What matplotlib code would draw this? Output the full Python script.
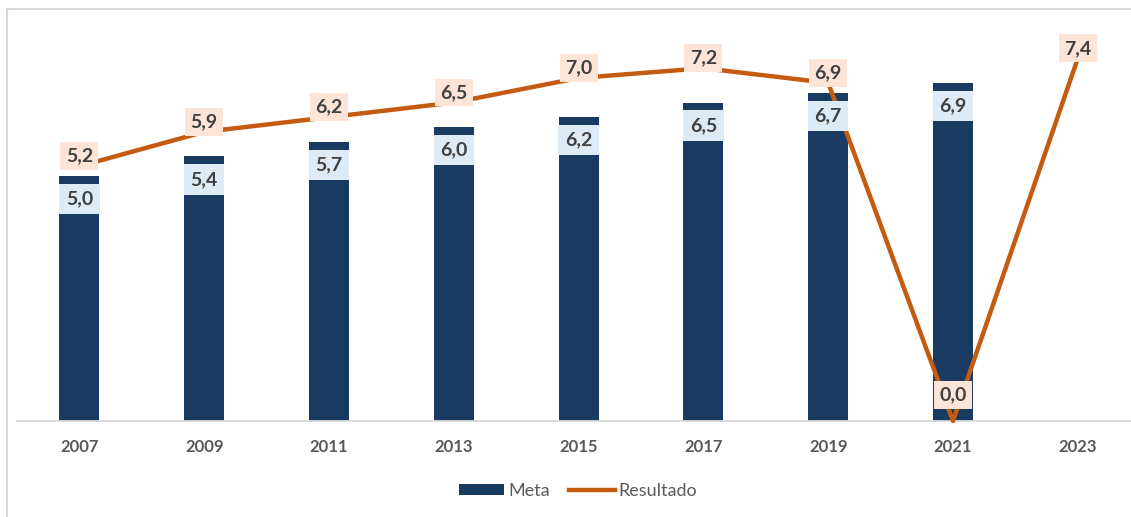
import numpy as np
import matplotlib
matplotlib.use("Agg")
import matplotlib.pyplot as plt
from matplotlib.lines import Line2D
from matplotlib.patches import Patch

# Data
years = ["2007", "2009", "2011", "2013", "2015", "2017", "2019", "2021", "2023"]
meta = [5.0, 5.4, 5.7, 6.0, 6.2, 6.5, 6.7, 6.9, np.nan]
resultado = [5.2, 5.9, 6.2, 6.5, 7.0, 7.2, 6.9, 0.0, 7.4]

BAR_COLOR = "#193b62"
LINE_COLOR = "#c55a11"
BAR_LABEL_BG = "#ddebf7"
LINE_LABEL_BG = "#fce4d6"
LABEL_TEXT = "#404040"
AXIS_TEXT = "#595959"
GRID_GRAY = "#d9d9d9"

W, H = 1131, 517
DPI = 100
fig = plt.figure(figsize=(W / DPI, H / DPI), dpi=DPI)

# plot area in pixel coordinates
left_px, right_px, bottom_px, top_px = 17, 1131, 421, 21
ax = fig.add_axes([left_px / W, 1 - bottom_px / H,
                   (right_px - left_px) / W, (bottom_px - top_px) / H])

x = np.arange(len(years))
px_per_unit = 49.0
ax.set_ylim(0, (bottom_px - top_px) / px_per_unit)
ax.set_xlim(-0.5, -0.5 + (right_px - left_px) / 124.8)

bar_w = 0.32
ax.bar(x, meta, width=bar_w, color=BAR_COLOR, zorder=2)
ax.plot(x, resultado, color=LINE_COLOR, lw=3.2, solid_joinstyle="round",
        solid_capstyle="round", zorder=3, clip_on=False)

pt_per_px = 72.0 / DPI

# value labels on the bars (inside the top end)
for xi, v in zip(x, meta):
    if np.isnan(v):
        continue
    ax.annotate(f"{v:.1f}".replace(".", ","), (xi, v),
                xytext=(0, -23 * pt_per_px), textcoords="offset points",
                ha="center", va="center", fontsize=14, fontweight="bold",
                family="Lato", color=LABEL_TEXT, zorder=5,
                bbox=dict(boxstyle="square,pad=0.34", fc=BAR_LABEL_BG, ec="none"))

# value labels on the line (above each point)
for xi, v in zip(x, resultado):
    off = 10 if v * px_per_unit > 30 else 26
    ax.annotate(f"{v:.1f}".replace(".", ","), (xi, v),
                xytext=(0, off * pt_per_px), textcoords="offset points",
                ha="center", va="center", fontsize=14, fontweight="bold",
                family="Lato", color=LABEL_TEXT, zorder=6,
                bbox=dict(boxstyle="square,pad=0.28", fc=LINE_LABEL_BG, ec="none"))

# axes styling
for s in ["top", "right", "left"]:
    ax.spines[s].set_visible(False)
ax.spines["bottom"].set_color(GRID_GRAY)
ax.spines["bottom"].set_linewidth(1.3)
ax.set_yticks([])
ax.set_xticks(x)
ax.set_xticklabels(years, fontsize=12, fontweight="bold", family="Lato",
                   color=AXIS_TEXT)
ax.tick_params(axis="x", length=0, pad=13)
ax.patch.set_alpha(0)

# chart frame (left and top edges)
fx = 7 / W
fy = 1 - 9 / H
fig.add_artist(Line2D([fx, fx], [0, fy], color=GRID_GRAY, lw=1.5,
                      transform=fig.transFigure))
fig.add_artist(Line2D([fx, 1], [fy, fy], color=GRID_GRAY, lw=1.5,
                      transform=fig.transFigure))

# legend
handles = [Patch(facecolor=BAR_COLOR, edgecolor="none", label="Meta"),
           Line2D([], [], color=LINE_COLOR, lw=3.2, label="Resultado")]
leg = fig.legend(handles=handles, loc="center", bbox_to_anchor=(578 / W, 1 - 491 / H),
                 ncol=2, frameon=False, prop={"family": "Lato", "size": 13},
                 handlelength=2.5, handleheight=0.6, handletextpad=0.2,
                 columnspacing=1.1, labelcolor=AXIS_TEXT)

fig.savefig("out.png", dpi=DPI)
